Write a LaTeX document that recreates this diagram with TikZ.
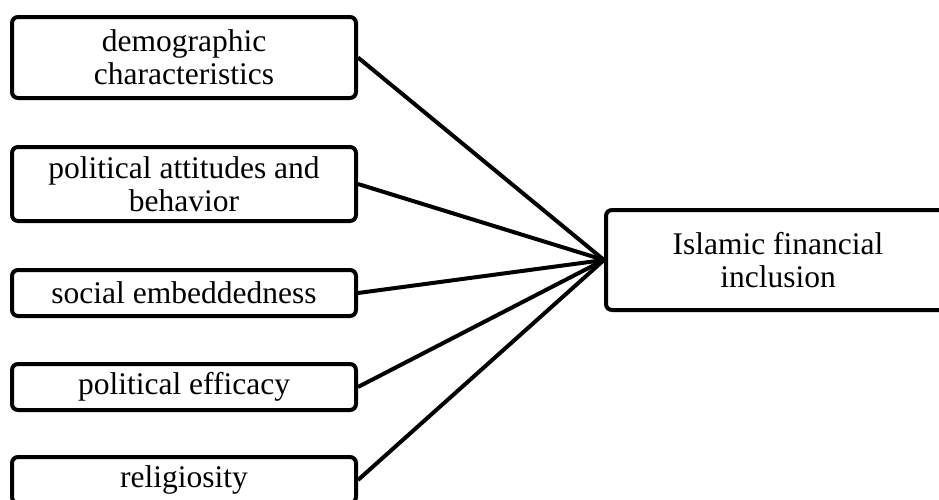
\documentclass[tikz,border=0pt]{standalone}
\usepackage{fontspec}
\setmainfont{Liberation Serif}
\begin{document}
\begin{tikzpicture}[x=1pt,y=-1pt,
  box/.style={draw=black, line width=4pt, rounded corners=6pt, minimum width=344pt,
    align=center, inner sep=0pt, font=\fontsize{31.5}{33}\selectfont, text=black},
  link/.style={draw=black, line width=4pt}]
\clip (0,0) rectangle (939,499);
\fill[white] (0,0) rectangle (939,499);
\node[box, minimum height=81pt] (d) at (184,57.5) {demographic\\characteristics};
\node[box, minimum height=74pt] (p) at (184,184) {political attitudes and\\behavior};
\node[box, minimum height=46pt] (s) at (184,293) {social embeddedness};
\node[box, minimum height=46pt] (e) at (184,387) {political efficacy};
\node[box, minimum height=46pt] (r) at (184,480) {religiosity};
\node[box, minimum height=100pt] (i) at (778,260) {Islamic financial\\inclusion};
\foreach \n in {d,p,s,e,r} \draw[link] (\n.east) -- (i.west);
\end{tikzpicture}
\end{document}
